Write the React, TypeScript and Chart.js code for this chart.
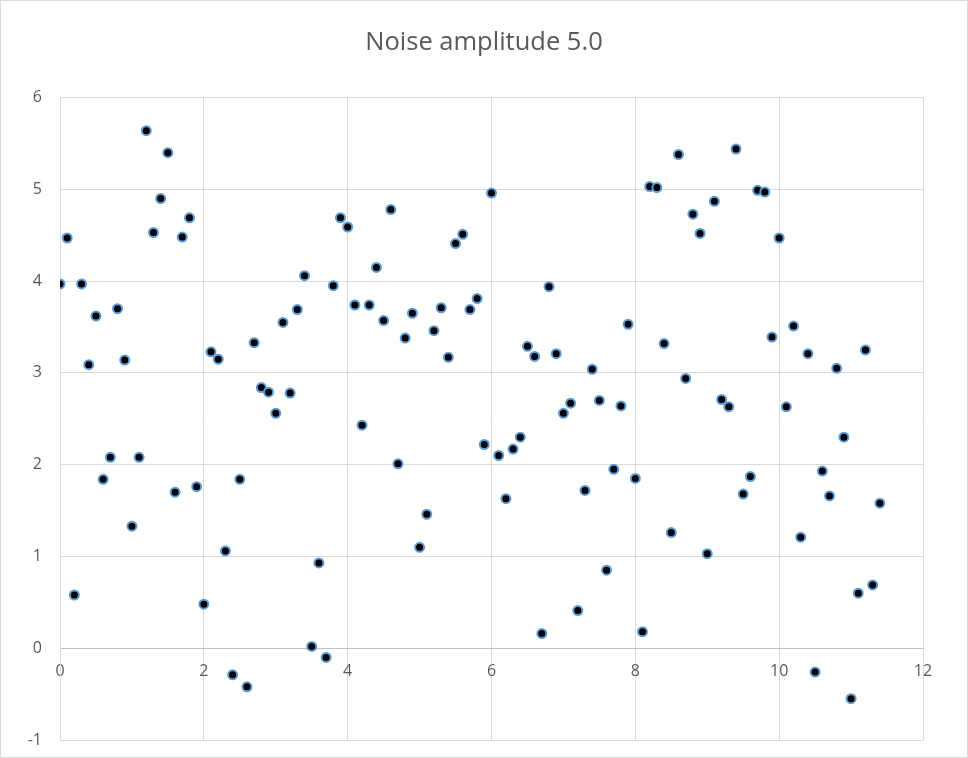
import React, { useEffect, useRef } from "react";
import { Chart, registerables } from "chart.js";

Chart.register(...registerables);

const chartTitle = "Noise amplitude 5.0";

const xValues = [
  0.0, 0.1, 0.2, 0.3, 0.4, 0.5, 0.6, 0.7, 0.8, 0.9,
  1.0, 1.1, 1.2, 1.3, 1.4, 1.5, 1.6, 1.7, 1.8, 1.9,
  2.0, 2.1, 2.2, 2.3, 2.4, 2.5, 2.6, 2.7, 2.8, 2.9,
  3.0, 3.1, 3.2, 3.3, 3.4, 3.5, 3.6, 3.7, 3.8, 3.9,
  4.0, 4.1, 4.2, 4.3, 4.4, 4.5, 4.6, 4.7, 4.8, 4.9,
  5.0, 5.1, 5.2, 5.3, 5.4, 5.5, 5.6, 5.7, 5.8, 5.9,
  6.0, 6.1, 6.2, 6.3, 6.4, 6.5, 6.6, 6.7, 6.8, 6.9,
  7.0, 7.1, 7.2, 7.3, 7.4, 7.5, 7.6, 7.7, 7.8, 7.9,
  8.0, 8.1, 8.2, 8.3, 8.4, 8.5, 8.6, 8.7, 8.8, 8.9,
  9.0, 9.1, 9.2, 9.3, 9.4, 9.5, 9.6, 9.7, 9.8, 9.9,
  10.0, 10.1, 10.2, 10.3, 10.4, 10.5, 10.6, 10.7, 10.8, 10.9,
  11.0, 11.1, 11.2, 11.3, 11.4,
];

const yValues = [
  3.97, 4.47, 0.58, 3.97, 3.09, 3.62, 1.84, 2.08, 3.70, 3.14,
  1.33, 2.08, 5.64, 4.53, 4.90, 5.40, 1.70, 4.48, 4.69, 1.76,
  0.48, 3.23, 3.15, 1.06, -0.29, 1.84, -0.42, 3.33, 2.84, 2.79,
  2.56, 3.55, 2.78, 3.69, 4.06, 0.02, 0.93, -0.10, 3.95, 4.69,
  4.59, 3.74, 2.43, 3.74, 4.15, 3.57, 4.78, 2.01, 3.38, 3.65,
  1.10, 1.46, 3.46, 3.71, 3.17, 4.41, 4.51, 3.69, 3.81, 2.22,
  4.96, 2.10, 1.63, 2.17, 2.30, 3.29, 3.18, 0.16, 3.94, 3.21,
  2.56, 2.67, 0.41, 1.72, 3.04, 2.70, 0.85, 1.95, 2.64, 3.53,
  1.85, 0.18, 5.03, 5.02, 3.32, 1.26, 5.38, 2.94, 4.73, 4.52,
  1.03, 4.87, 2.71, 2.63, 5.44, 1.68, 1.87, 4.99, 4.97, 3.39,
  4.47, 2.63, 3.51, 1.21, 3.21, -0.26, 1.93, 1.66, 3.05, 2.30,
  -0.55, 0.60, 3.25, 0.69, 1.58,
];

const xAxisRange = [0, 12];
const yAxisRange = [-1, 6];
const xStep = 2;
const yStep = 1;

export default function App() {
  const canvasRef = useRef<HTMLCanvasElement | null>(null);

  useEffect(() => {
    const canvas = canvasRef.current;
    if (!canvas) return;
    const points = xValues.map((x, i) => ({ x, y: yValues[i] }));
    const chart = new Chart(canvas, {
      type: "scatter",
      data: {
        datasets: [
          {
            label: "Series1",
            data: points,
            backgroundColor: "#000000",
            borderColor: "#5B9BD5",
            borderWidth: 2,
            pointRadius: 4.5,
            pointHoverRadius: 4.5,
          },
        ],
      },
      options: {
        responsive: false,
        animation: false,
        devicePixelRatio: 1,
        layout: { padding: { left: 0, right: 0, top: 0, bottom: 17 } },
        plugins: {
          legend: { display: false },
          tooltip: { enabled: false },
          title: {
            display: true,
            text: chartTitle,
            color: "#595959",
            font: { family: "'Open Sans', sans-serif", size: 25.5, weight: "normal" },
            padding: { top: 26, bottom: 40 },
          },
        },
        scales: {
          x: {
            type: "linear",
            position: { y: 0 } as any,
            min: xAxisRange[0],
            max: xAxisRange[1],
            ticks: {
              stepSize: xStep,
              color: "#595959",
              font: { family: "'Open Sans', sans-serif", size: 16 },
              padding: 14,
              maxRotation: 0,
            },
            grid: { color: "#d9d9d9", lineWidth: 1, drawTicks: false },
            border: { color: "#bfbfbf", width: 1 },
            afterFit: (scale: any) => {
              scale.height = 0;
              scale.paddingTop = 0;
              scale.paddingBottom = 0;
            },
          },
          y: {
            type: "linear",
            position: "left",
            min: yAxisRange[0],
            max: yAxisRange[1],
            ticks: {
              stepSize: yStep,
              color: "#595959",
              font: { family: "'Open Sans', sans-serif", size: 16 },
              padding: 18,
            },
            grid: { color: "#d9d9d9", lineWidth: 1, drawTicks: false },
            border: { color: "#d9d9d9", width: 1 },
            afterFit: (scale: any) => {
              scale.width = 59;
              scale.paddingTop = 0;
              scale.paddingBottom = 0;
            },
          },
          spacer: {
            type: "linear",
            position: "right",
            min: yAxisRange[0],
            max: yAxisRange[1],
            ticks: { display: false },
            grid: { display: false, drawTicks: false },
            border: { display: false },
            afterFit: (scale: any) => {
              scale.width = 44;
              scale.paddingTop = 0;
              scale.paddingBottom = 0;
            },
          },
        },
      },
    });
    return () => chart.destroy();
  }, []);

  return (
    <div
      style={{
        position: "absolute",
        left: 0,
        top: 0,
        width: 968,
        height: 758,
        boxSizing: "border-box",
        border: "1px solid #d9d9d9",
        background: "#ffffff",
      }}
    >
      <canvas ref={canvasRef} width={966} height={756} style={{ display: "block" }} />
    </div>
  );
}
